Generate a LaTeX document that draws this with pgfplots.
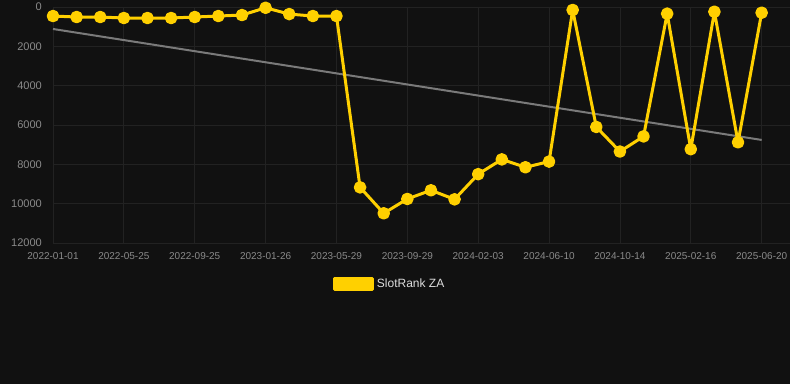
\documentclass[border=0pt]{standalone}
\usepackage{pgfplots}
\pgfplotsset{compat=1.18}
\usepackage{fontspec}
\setmainfont{Liberation Sans}
\definecolor{bg}{HTML}{111111}
\definecolor{gridc}{HTML}{222222}
\definecolor{tickc}{HTML}{8A8A8A}
\definecolor{gold}{HTML}{FFD000}
\definecolor{trend}{HTML}{7A7A7A}
\definecolor{legtext}{HTML}{DDDDDD}
\pgfplotstableread{
i v
0 460
1 510
2 510
3 560
4 560
5 560
6 510
7 460
8 410
9 40
10 360
11 460
12 460
13 9170
14 10490
15 9760
16 9320
17 9780
18 8500
19 7750
20 8150
21 7860
22 150
23 6100
24 7350
25 6580
26 340
27 7230
28 240
29 6880
30 290
}\datatable
\begin{document}
\begin{tikzpicture}
\useasboundingbox (0pt,0pt) rectangle (592.5pt,288pt);
\fill[bg] (0pt,0pt) rectangle (592.5pt,288pt);
\begin{axis}[
  at={(39.75pt,105.75pt)}, anchor=south west,
  scale only axis, width=552.75pt, height=177pt,
  xmin=0, xmax=31.2, ymin=0, ymax=12000, y dir=reverse,
  axis line style={draw=none}, tick style={draw=none},
  grid=major, grid style={gridc, line width=0.6pt},
  xtick={0,3,...,30},
  xticklabels={2022-01-01,2022-05-25,2022-09-25,2023-01-26,2023-05-29,2023-09-29,2024-02-03,2024-06-10,2024-10-14,2025-02-16,2025-06-20},
  ytick={0,2000,...,12000},
  scaled y ticks=false,
  /pgf/number format/1000 sep={},
  /pgf/number format/assume math mode=true,
  yticklabel style={font=\fontsize{8.3}{9}\selectfont, text=tickc, xshift=-4.8pt, /pgf/number format/fixed},
  xticklabel style={font=\fontsize{7.5}{9}\selectfont, text=tickc, yshift=-3.5pt},
  legend style={at={(axis description cs:0.457,-0.174)}, anchor=center, draw=none, fill=none, text=legtext, font=\fontsize{9}{10}\selectfont},
  legend image code/.code={\fill[gold] (0pt,-4pt) rectangle (29pt,4pt);},
  clip=false,
]
\addplot[trend, line width=1.5pt, forget plot] coordinates {(0,1118) (30,6760)};
\addplot[gold, line width=2.25pt, line join=round, mark=*, mark size=3.6pt, mark options={fill=gold, draw=none}] table[x=i, y=v] {\datatable};
\addlegendentry{SlotRank ZA}
\end{axis}
\end{tikzpicture}
\end{document}
